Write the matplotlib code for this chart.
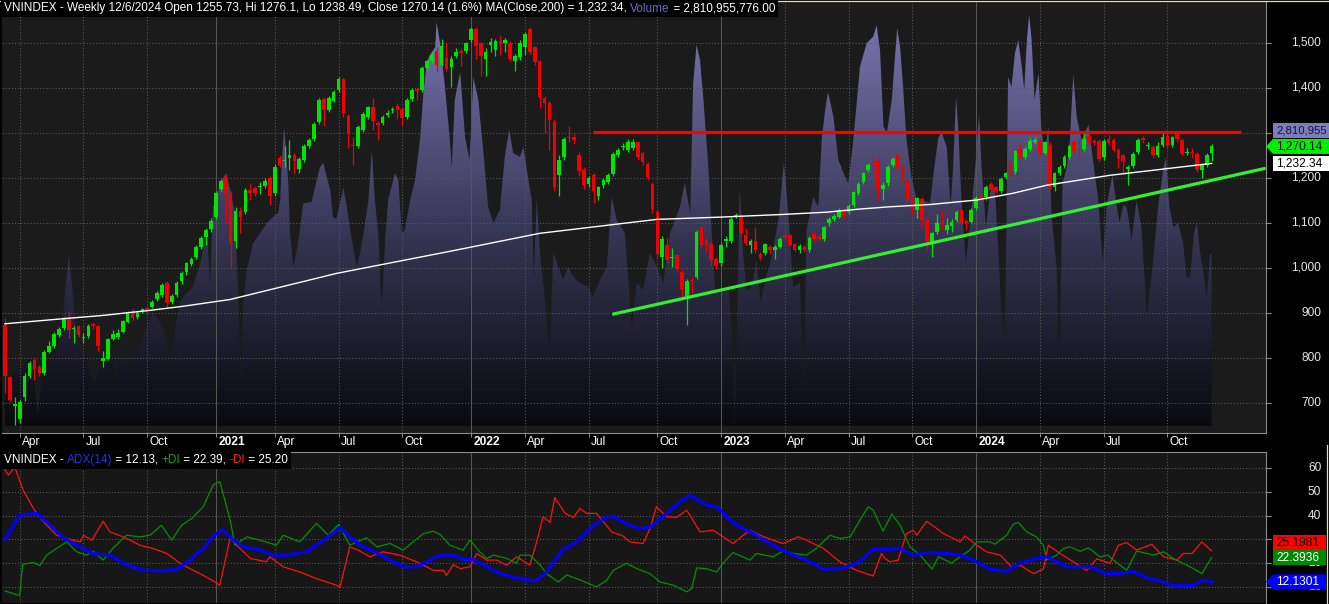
import numpy as np
import pandas as pd
import matplotlib
matplotlib.use("Agg")
import matplotlib.pyplot as plt
from matplotlib.colors import LinearSegmentedColormap
from matplotlib.patches import Polygon, Rectangle
from matplotlib.font_manager import FontProperties

W, H, DPI = 1329, 604, 100
FONT = "Liberation Sans"

# weekly bars stamped with the last trading day; Tet week of 2022-02-04 has no bar
dates = pd.date_range("2020-03-13", "2024-12-06", freq="W-FRI")
dates = dates[dates != pd.Timestamp("2022-02-04")]
dates = dates.where(dates != pd.Timestamp("2021-01-01"), pd.Timestamp("2020-12-31"))

opens = [873, 757, 694, 664, 714, 760, 795, 781, 766, 814, 827, 851, 866, 888, 865, 871, 845, 849, 876, 870,
         793, 797, 842, 846, 858, 881, 904, 890, 903, 910, 913, 930, 940, 966, 925, 940, 970, 990, 1009, 1024,
         1047, 1068, 1086, 1113, 1175, 1199, 1164, 1061, 1127, 1124, 1173, 1178, 1179, 1183, 1199, 1166, 1244, 1237, 1244, 1251,
         1220, 1240, 1270, 1286, 1325, 1376, 1351, 1372, 1396, 1419, 1338, 1272, 1270, 1307, 1336, 1357, 1323, 1323, 1340, 1350,
         1361, 1353, 1336, 1376, 1397, 1396, 1444, 1461, 1483, 1452, 1467, 1446, 1472, 1483, 1483, 1507, 1531, 1500, 1465, 1496,
         1485, 1505, 1499, 1500, 1459, 1468, 1490, 1530, 1490, 1459, 1378, 1367, 1325, 1207, 1246, 1292, 1292, 1251, 1218, 1186,
         1207, 1160, 1184, 1190, 1208, 1251, 1268, 1262, 1266, 1279, 1255, 1230, 1187, 1124, 1025, 1051, 1023, 1029, 990, 938,
         972, 979, 1090, 1062, 1053, 1019, 1010, 1060, 1061, 1113, 1116, 1073, 1050, 1060, 1031, 1033, 1047, 1041, 1047, 1073,
         1073, 1053, 1041, 1047, 1039, 1076, 1070, 1064, 1099, 1109, 1114, 1130, 1125, 1140, 1167, 1190, 1218, 1235, 1238, 1175,
         1188, 1229, 1251, 1227, 1192, 1156, 1129, 1153, 1107, 1055, 1079, 1104, 1084, 1093, 1107, 1129, 1105, 1103, 1133, 1160,
         1157, 1187, 1179, 1171, 1202, 1235, 1213, 1264, 1247, 1265, 1279, 1283, 1256, 1274, 1181, 1211, 1226, 1247, 1281, 1264,
         1264, 1294, 1281, 1283, 1246, 1287, 1285, 1263, 1250, 1219, 1226, 1257, 1289, 1272, 1269, 1250, 1273, 1294, 1274, 1298,
         1285, 1255, 1257, 1253, 1217, 1228, 1255.73]
highs = [888, 760, 714, 706, 767, 793, 800, 785, 818, 838, 858, 868, 890, 904, 870, 874, 855, 875, 879, 873,
         816, 845, 862, 865, 885, 905, 910, 905, 912, 916, 928, 948, 966, 970, 942, 972, 993, 1013, 1025, 1050,
         1070, 1088, 1110, 1172, 1197, 1207, 1170, 1135, 1135, 1178, 1188, 1183, 1190, 1200, 1205, 1230, 1250, 1270, 1284, 1256,
         1246, 1275, 1288, 1324, 1377, 1380, 1382, 1396, 1424, 1422, 1342, 1292, 1318, 1346, 1361, 1377, 1327, 1340, 1350, 1358,
         1366, 1358, 1377, 1400, 1402, 1448, 1463, 1480, 1490, 1509, 1502, 1470, 1488, 1488, 1503, 1535, 1536, 1503, 1488, 1511,
         1508, 1518, 1512, 1504, 1475, 1506, 1524, 1535, 1494, 1463, 1382, 1372, 1330, 1250, 1290, 1316, 1297, 1260, 1225, 1205,
         1212, 1183, 1200, 1212, 1258, 1266, 1278, 1286, 1287, 1283, 1260, 1235, 1192, 1128, 1070, 1066, 1044, 1032, 995, 975,
         981, 1085, 1096, 1066, 1058, 1025, 1056, 1070, 1114, 1123, 1120, 1088, 1065, 1092, 1035, 1056, 1050, 1052, 1068, 1083,
         1076, 1056, 1054, 1050, 1070, 1080, 1073, 1093, 1113, 1120, 1133, 1134, 1142, 1172, 1191, 1214, 1233, 1246, 1245, 1190,
         1229, 1247, 1255, 1231, 1196, 1160, 1158, 1157, 1112, 1080, 1121, 1129, 1112, 1108, 1129, 1133, 1108, 1133, 1159, 1167,
         1185, 1192, 1182, 1202, 1214, 1240, 1263, 1275, 1268, 1288, 1290, 1287, 1283, 1281, 1214, 1228, 1251, 1274, 1285, 1285,
         1302, 1300, 1286, 1287, 1287, 1296, 1289, 1267, 1254, 1228, 1258, 1289, 1293, 1280, 1273, 1280, 1300, 1299, 1294, 1303,
         1288, 1267, 1266, 1257, 1234, 1256, 1276.1]
lows = [723, 703, 651, 655, 705, 755, 751, 760, 762, 810, 822, 846, 862, 844, 834, 846, 834, 845, 865, 816,
        781, 795, 840, 843, 855, 877, 884, 886, 899, 900, 910, 926, 936, 912, 920, 936, 965, 985, 1004, 1020,
        1042, 1050, 1080, 1108, 1170, 1100, 1000, 1045, 1077, 1120, 1151, 1160, 1165, 1178, 1140, 1160, 1225, 1225, 1218, 1210,
        1212, 1236, 1266, 1282, 1320, 1315, 1347, 1368, 1392, 1336, 1266, 1229, 1266, 1303, 1330, 1307, 1284, 1318, 1335, 1344,
        1330, 1318, 1331, 1372, 1373, 1392, 1440, 1456, 1437, 1448, 1438, 1403, 1466, 1448, 1478, 1503, 1464, 1426, 1426, 1479,
        1472, 1474, 1481, 1460, 1437, 1463, 1474, 1476, 1450, 1355, 1300, 1262, 1170, 1159, 1240, 1280, 1275, 1205, 1175, 1180,
        1144, 1150, 1178, 1186, 1204, 1247, 1262, 1258, 1262, 1240, 1228, 1195, 1122, 1020, 999, 1010, 1003, 990, 936, 873,
        944, 975, 1045, 1035, 1005, 998, 1005, 1047, 1056, 1110, 1070, 1050, 1033, 1033, 1018, 1028, 1030, 1019, 1044, 1063,
        1048, 1038, 1034, 1035, 1036, 1060, 1060, 1061, 1094, 1105, 1110, 1112, 1121, 1136, 1163, 1186, 1214, 1210, 1151, 1151,
        1183, 1225, 1220, 1186, 1140, 1118, 1112, 1092, 1040, 1025, 1075, 1084, 1075, 1080, 1103, 1096, 1085, 1099, 1129, 1145,
        1150, 1168, 1166, 1167, 1198, 1205, 1208, 1243, 1243, 1261, 1275, 1250, 1250, 1175, 1172, 1207, 1222, 1243, 1255, 1252,
        1260, 1274, 1274, 1237, 1240, 1273, 1258, 1222, 1211, 1185, 1222, 1253, 1278, 1265, 1245, 1246, 1268, 1265, 1268, 1280,
        1248, 1252, 1244, 1213, 1200, 1224, 1238.49]
closes = [760, 707, 697, 703, 759, 788, 775, 767, 814, 827, 853, 864, 886, 862, 867, 850, 847, 872, 870, 827,
          799, 842, 853, 856, 882, 901, 888, 901, 908, 905, 924, 944, 962, 923, 938, 967, 988, 1010, 1021, 1046,
          1066, 1084, 1105, 1167, 1193, 1166, 1055, 1127, 1114, 1173, 1167, 1167, 1183, 1194, 1161, 1225, 1229, 1239, 1250, 1238,
          1242, 1270, 1284, 1320, 1373, 1351, 1377, 1392, 1420, 1345, 1299, 1270, 1314, 1342, 1357, 1327, 1318, 1336, 1345, 1354,
          1351, 1334, 1373, 1396, 1394, 1444, 1459, 1474, 1452, 1494, 1443, 1464, 1481, 1478, 1499, 1530, 1494, 1472, 1481, 1503,
          1504, 1499, 1507, 1465, 1470, 1499, 1519, 1481, 1457, 1379, 1367, 1328, 1181, 1240, 1286, 1288, 1284, 1216, 1184, 1199,
          1170, 1179, 1196, 1207, 1253, 1262, 1270, 1281, 1279, 1247, 1235, 1203, 1130, 1030, 1065, 1018, 1025, 997, 953, 970,
          970, 1079, 1050, 1051, 1018, 1004, 1051, 1064, 1109, 1118, 1077, 1055, 1060, 1039, 1023, 1053, 1041, 1047, 1064, 1067,
          1051, 1041, 1049, 1039, 1067, 1064, 1064, 1090, 1109, 1116, 1129, 1118, 1138, 1168, 1187, 1210, 1229, 1233, 1175, 1184,
          1225, 1242, 1225, 1192, 1151, 1129, 1155, 1107, 1059, 1077, 1101, 1102, 1096, 1103, 1125, 1101, 1101, 1129, 1155, 1153,
          1181, 1173, 1171, 1198, 1210, 1211, 1259, 1247, 1264, 1283, 1285, 1256, 1279, 1181, 1210, 1224, 1247, 1270, 1259, 1262,
          1287, 1278, 1279, 1243, 1283, 1278, 1263, 1242, 1237, 1224, 1254, 1285, 1284, 1274, 1250, 1272, 1291, 1270, 1290, 1287,
          1253, 1257, 1256, 1217, 1230, 1252, 1270.14]

# volume envelope (billions of shares) sampled along the bar axis
vol_pos = [0.0, 3.7, 5.1, 5.7, 6.7, 7.5, 9.2, 10.2, 11.2, 11.8, 12.6, 13.0, 13.7, 14.3, 15.3, 17.3, 18.3, 19.4, 20.8, 22.0,
           22.8, 23.4, 24.9, 26.1, 27.5, 29.0, 30.0, 31.0, 32.2, 33.2, 34.0, 34.7, 35.7, 37.1, 38.3, 39.8, 41.2, 41.8, 42.4, 43.4,
           44.4, 45.1, 45.9, 46.9, 47.6, 48.1, 48.6, 49.3, 49.9, 50.6, 52.0, 53.4, 54.7, 55.7, 56.1, 56.4, 56.9, 57.4, 57.8, 58.1,
           58.8, 59.5, 60.1, 60.8, 62.5, 64.2, 64.9, 65.6, 66.3, 66.9, 67.6, 68.3, 69.0, 69.7, 70.7, 71.7, 72.4, 73.0, 74.1, 74.8,
           75.4, 76.1, 76.8, 77.5, 78.1, 79.5, 80.2, 80.9, 81.5, 82.6, 83.6, 84.6, 85.3, 86.0, 86.6, 87.7, 88.0, 88.7,
           89.7, 90.7, 91.1, 91.7, 92.8, 93.8, 94.7, 95.5, 96.5, 97.5, 98.5, 99.6, 100.9, 101.9, 102.8, 103.6, 105.0, 105.7, 106.7, 107.4,
           107.8, 108.4, 109.1, 110.1, 111.0, 111.8, 112.8, 113.8, 114.8, 115.9, 117.2, 118.9, 119.9, 121.3, 122.7, 123.7, 124.7, 126.4, 127.8, 128.8,
           130.1, 131.5, 132.9, 134.2, 135.6, 137.6, 138.6, 139.7, 140.3, 141.0, 141.7, 142.4, 143.4, 144.1, 144.8, 146.1, 147.5, 148.2, 148.8, 149.5,
           149.8, 150.4, 151.2, 152.2, 153.2, 154.1, 154.9, 156.3, 157.7, 158.8, 159.7, 160.7, 162.1, 162.9, 163.4, 164.8, 165.8, 166.5, 167.2, 167.8,
           168.9, 169.9, 171.3, 171.9, 172.9, 174.3, 175.7, 177.0, 177.7, 178.4, 179.1, 179.8, 180.8, 181.4, 181.9, 182.5, 183.1, 183.8, 184.8, 185.9,
           187.2, 188.6, 189.3, 190.3, 191.0, 192.0, 192.8, 193.3, 193.9, 194.4, 195.0, 195.9, 196.7, 197.8, 198.6, 199.1, 200.0, 200.8, 201.8, 202.5,
           203.2, 203.9, 204.5, 205.2, 205.9, 206.6, 207.3, 207.8, 208.3, 208.8, 209.3, 209.9, 210.7, 211.3, 212.0, 212.7, 213.4, 214.4, 215.0, 215.6,
           216.5, 217.1, 217.8, 218.5, 219.5, 220.9, 221.9, 222.9, 223.8, 224.6, 225.3, 225.8, 226.5, 227.2, 228.0, 228.7, 229.7, 230.7, 231.7, 232.8,
           233.4, 234.1, 235.1, 236.1, 236.7, 237.4, 238.2, 239.2, 240.2, 240.9, 241.6, 242.4, 243.0, 243.6, 244.3, 245.0, 245.7, 246.0]
vol_val = [0.75, 0.96, 1.13, 0.92, 0.15, 0.80, 1.03, 1.13, 1.45, 1.78, 2.50, 2.79, 2.27, 1.73, 1.36, 0.87, 0.70, 0.96, 1.13, 1.19,
           0.70, 1.29, 0.96, 1.08, 1.32, 1.62, 1.85, 1.76, 1.60, 1.29, 1.05, 1.62, 2.03, 2.17, 2.27, 2.66, 3.20, 2.30, 3.58, 3.82,
           4.05, 4.13, 3.86, 3.48, 2.06, 0.70, 2.06, 2.55, 2.76, 2.99, 3.15, 3.32, 3.42, 3.48, 3.69, 4.23, 4.89, 4.40, 3.91, 3.15,
           2.60, 2.88, 3.20, 3.64, 3.66, 4.23, 4.30, 4.07, 3.86, 3.40, 3.40, 3.64, 3.89, 3.58, 3.04, 2.60, 2.83, 3.09, 3.69, 4.51,
           3.69, 3.15, 1.94, 3.04, 3.69, 4.13, 4.02, 3.15, 3.20, 3.69, 4.02, 4.67, 5.44, 5.95, 6.06, 6.19, 6.60, 6.26,
           5.54, 4.67, 4.23, 5.33, 5.78, 4.72, 4.35, 5.70, 5.33, 4.51, 3.58, 3.32, 3.53, 4.40, 4.84, 4.46, 4.40, 4.56, 4.02, 3.69,
           2.43, 3.69, 2.83, 2.06, 1.19, 2.83, 2.60, 2.39, 2.60, 2.43, 2.34, 2.27, 2.11, 2.39, 2.60, 3.74, 3.37, 3.15, 1.57, 2.34,
           2.22, 2.83, 2.60, 2.34, 3.15, 3.58, 3.97, 3.48, 5.60, 6.23, 5.98, 5.33, 4.23, 3.15, 2.22, 2.17, 2.22, 1.52, 0.05, 2.60,
           3.89, 2.88, 2.22, 2.27, 2.71, 2.01, 2.34, 2.76, 3.37, 4.30, 3.48, 2.27, 2.34, 0.59, 3.20, 3.74, 3.58, 4.67, 5.16, 5.46,
           5.05, 4.35, 4.07, 3.97, 4.62, 5.87, 6.26, 6.36, 6.55, 6.14, 4.89, 4.79, 5.33, 5.98, 6.50, 6.19, 5.54, 4.67, 4.07, 3.69,
           3.69, 3.64, 4.13, 4.72, 4.79, 4.56, 3.58, 4.23, 5.38, 4.79, 3.69, 2.66, 3.25, 4.23, 5.08, 4.23, 3.25, 3.81, 3.91, 2.92,
           1.78, 1.45, 5.70, 5.54, 6.09, 6.31, 5.87, 5.49, 6.26, 6.72, 6.31, 5.33, 5.77, 4.84, 4.40, 4.89, 3.42, 2.60, 0.80, 3.97,
           4.23, 4.67, 5.74, 5.05, 4.67, 4.92, 4.30, 3.69, 2.66, 3.58, 3.91, 4.10, 3.69, 3.32, 3.61, 3.58, 3.04, 3.69, 3.25, 1.78,
           2.22, 2.71, 3.58, 4.18, 4.40, 3.58, 3.25, 3.32, 2.99, 2.43, 2.43, 3.15, 3.32, 2.88, 2.50, 2.11, 2.81, 2.81]
last_volume = "2,810,955,776.00"

# MA(Close,200) read along the bar axis
ma_pos = [0, 12.6, 19.4, 28.9, 35.7, 45.9, 67.6, 90.7, 109, 132.9, 145.8, 158.6, 167.5, 174.3, 180.4, 188.6,
          198.1, 205.5, 212.4, 225.3, 246]
ma_val = [876, 888, 894, 905, 914, 930, 988, 1037, 1077, 1108, 1113, 1119, 1124, 1131, 1136, 1141,
          1151, 1166, 1184, 1206, 1232.34]

# drawn study lines: resistance level and rising trendline
level_pos, level_val = [119.9, 252.0], [1303, 1303]
trend_pos, trend_val = [123.8, 257.0], [897, 1221.6]

# ADX(14), +DI, -DI
adx_pos = [0, 3, 6.5, 9.2, 11.9, 14.6, 18, 21.4, 24.8, 28.2, 31.6, 35, 37.7, 40.4, 42.8, 44.5, 46.6, 48.6, 52, 54.7,
           57.4, 61.5, 64.9, 68.3, 70.3, 72.4, 75.1, 78.5, 81.2, 83.9, 86.6, 88.7, 91.4, 93.4, 95.5, 98.2, 100.9, 104.3, 107, 108.1,
           110.4, 113.8, 116.6, 120, 122.7, 124, 127.4, 129.5, 131.5, 134.9, 137.6, 139.7, 143, 145.1, 147.8, 149.8, 152.6, 155.9, 159.4, 163.4,
           166.9, 170.2, 172.9, 175, 177, 178.4, 181.1, 182.1, 185.2, 187.9, 192, 194.7, 197.4, 200.8, 204.2, 206.9, 210.3, 212.4, 216.5, 221.2,
           224.6, 227.3, 230.1, 232.8, 235.5, 238.2, 242.3, 244.3, 246]
adx_val = [30, 40.3, 41, 36, 30.7, 27.6, 24, 23.4, 19.2, 17, 16.8, 17.3, 21.3, 26.2, 32.1, 34, 29.7, 26.9, 25.5, 23.4,
           23.4, 24.8, 29.7, 34.9, 31.1, 27.6, 25.1, 21.3, 18.5, 18.5, 21.3, 23.4, 23.4, 21.5, 21.5, 18.5, 15.6, 13.8, 12.8, 12.4,
           16.3, 25.9, 29, 36, 39.6, 39.6, 36, 34.6, 35.2, 41, 45.9, 48.7, 44.5, 43.8, 38.2, 35.4, 32.5, 28.3, 24.5, 21.3,
           17.5, 17.7, 19.2, 22, 25.9, 25.9, 25.9, 26.5, 23.4, 24.5, 24.1, 23.4, 21.3, 17.5, 16.6, 20, 22, 22.7, 18.5, 18.5,
           15.6, 15.6, 16.6, 13.8, 12.4, 10.4, 10.7, 12.8, 12.13]
pdi_pos = [0, 2.7, 3.0, 3.6, 5.8, 7.1, 8.5, 10.5, 12.6, 14.6, 16.6, 18, 20, 22.1, 24.8, 27.5, 29.6, 31.9, 34, 36,
           38.1, 40.4, 42.5, 43.8, 45.9, 46.9, 49.3, 52, 55.4, 56.7, 60.1, 63.5, 65.9, 68, 70.3, 73.7, 75.8, 78.5, 81.2, 83.2,
           85.3, 87.3, 88.7, 90.7, 93.4, 94.8, 96.8, 98.2, 99.6, 102.3, 104.3, 105, 107, 109.1, 110.4, 112.8, 114.5, 117.2, 120.6, 122.7,
           124, 126.7, 128.8, 131.5, 133.5, 136.3, 139, 140, 141, 143, 145.1, 146.4, 148.4, 151.9, 153.2, 156.6, 158.6, 160.7, 163.4, 165.4,
           168.2, 170.2, 172.3, 174.3, 176, 177, 179, 180.8, 182.5, 184.5, 186.6, 189, 190.3, 193, 194.7, 196.7, 198.1, 200.8, 201.8, 204.2,
           205.6, 206.6, 208.3, 210.3, 211.7, 212.4, 214.4, 215.8, 217.1, 219.2, 220.9, 223.2, 224.9, 226, 228.7, 230.7, 232.8, 234.1, 236.2, 238.2,
           242.3, 244, 246]
pdi_val = [8.3, 6.5, 6.5, 19.5, 20.3, 19, 23.4, 26.2, 29, 24.8, 23.4, 25, 21.3, 26.5, 31.8, 31.1, 31.8, 36, 29.7, 36,
           38.9, 43.8, 53.2, 54.4, 38.2, 27.6, 31.1, 29.7, 27.6, 31.8, 29, 36.8, 31.8, 36.3, 27.6, 30.7, 26.9, 28.3, 25.5, 29,
           32.5, 33.5, 32.1, 27.6, 25.5, 29.7, 24.8, 22, 23.4, 22, 20, 23.4, 23.4, 19.2, 15.6, 12.1, 15, 13, 10, 12.8,
           17, 20, 17.7, 15.6, 12.1, 10.7, 7.9, 9.3, 18, 17.7, 16.3, 20, 24.5, 21.3, 24.1, 22.7, 25.1, 24.1, 23.4, 26.2,
           31.8, 30.4, 31.1, 38.2, 43.8, 42.4, 33.5, 40.7, 36, 26.9, 23.4, 17.5, 22.7, 20, 22.7, 25.5, 29, 29, 28, 31.8,
           36.5, 37.2, 33.2, 31.1, 27.6, 21.3, 23.4, 26.2, 26.9, 25, 26.5, 22.7, 23.4, 21.3, 17, 25.1, 24.1, 23.4, 24.8, 22,
           17.7, 15.6, 22.39]
mdi_pos = [0, 0.7, 2, 3.7, 5.8, 7.8, 10.5, 12.6, 15.3, 16, 17.7, 20, 21.4, 24.1, 27.5, 30.2, 33, 35.7, 37.7, 40.4,
           42.8, 43.8, 45.9, 47.2, 50, 53.3, 54, 56.7, 60.1, 63.5, 67.6, 68.3, 70.3, 72, 74.4, 77.1, 80.5, 83.9, 87.3, 89.4,
           90, 91.4, 92.8, 94.8, 96.2, 98.2, 100.2, 102.3, 104.3, 107, 108.4, 109.7, 111.1, 112.1, 114.2, 115.9, 117.2, 118.6, 120.6, 123.7,
           126, 127.4, 130.1, 131.5, 132.8, 134.9, 136.9, 139, 141.7, 144.4, 146.4, 148.4, 150.5, 151.9, 153.9, 156.6, 158.6, 161.7, 163.4, 166.9,
           170.2, 173.6, 177, 178.7, 179.4, 180.4, 182.1, 183.8, 185.2, 185.9, 187.9, 190, 191.3, 193.4, 194.7, 195.7, 198.1, 200.1, 202.9, 205.2,
           206.9, 209.7, 211.7, 212.7, 215.1, 217.8, 220.5, 222.6, 225.3, 227, 228.7, 230.7, 233.8, 236.2, 238.9, 240.2, 242, 244, 246]
mdi_val = [59.5, 57.2, 60.5, 50.8, 43.1, 37.5, 31.8, 30.4, 29, 31.8, 29.7, 37.7, 33.2, 31.1, 27.6, 26.2, 24.1, 20, 17.7, 14.9,
           12.1, 10.7, 30.7, 27.6, 22, 20.6, 22.7, 18.5, 16.3, 13.5, 10.7, 10, 26.9, 25.5, 22.7, 24.8, 23.4, 20.6, 17, 17,
           14.9, 19.4, 17.7, 18.5, 24.1, 21.3, 21.3, 19.2, 22.7, 19.2, 29, 39.6, 37.2, 47.7, 41, 39.3, 43.1, 41, 41, 33.2,
           31.5, 29, 28.3, 34.6, 43.8, 39.6, 39.3, 42.4, 33.2, 33.9, 31.1, 28.3, 31.8, 33.9, 31.8, 29.7, 28.3, 31.1, 29.7, 26.2,
           20.6, 17, 14.6, 24.1, 22, 20.6, 21.3, 32.5, 33.9, 31.8, 37.7, 34.6, 32.5, 30.4, 29, 31.5, 27.6, 24.8, 23.4, 18.5,
           19.2, 15.6, 17.5, 27.6, 24.1, 20.6, 17, 21.8, 20, 27.6, 28.7, 25.5, 28, 22.7, 21.3, 24.1, 24.1, 29, 25.2]

# right-hand scale labels; 1,300 and 30 sit fully under value tags in the original
price_ticks = [700, 800, 900, 1000, 1100, 1200, 1300, 1400, 1500]
price_labels = [700, 800, 900, 1000, 1100, 1200, 1400, 1500]
adx_ticks = [10, 20, 30, 40, 50, 60]
adx_labels = [10, 20, 40, 50, 60]

assert len(dates) == len(closes) == len(opens) == len(highs) == len(lows)

# ---------------------------------------------------------------- layout
fig = plt.figure(figsize=(W / DPI, H / DPI), dpi=DPI, facecolor="black")


def rect(x0, y0, x1, y1):
    return [x0 / W, 1 - y1 / H, (x1 - x0) / W, (y1 - y0) / H]


XL = (-0.61, 257.03)
PANEL_BG = "#1b1b1b"
GRID = "#5c5c5c"
AXLINE = "#8c8c8c"

ax_bg = fig.add_axes(rect(2, 1, 1265.7, 433))
ax = fig.add_axes(rect(2, 1, 1265.7, 433))
ax_adx = fig.add_axes(rect(2, 452, 1265.7, 603))

for a in (ax_bg, ax, ax_adx):
    a.set_xlim(*XL)
    a.set_xticks([])
    for s in a.spines.values():
        s.set_visible(False)
ax_bg.set_facecolor(PANEL_BG)
ax_bg.set_yticks([])
ax.set_facecolor("none")
ax_adx.set_facecolor("#171717")
ax.set_ylim(633.3, 1593.3)
ax_adx.set_ylim(3.2, 66.9)

# volume area with vertical gradient
poly = ax_bg.fill_between(vol_pos, 0, vol_val, color="none", lw=0)
cmap = LinearSegmentedColormap.from_list(
    "vol", [(0.0, (0.04, 0.04, 0.06)), (0.45, (0.21, 0.21, 0.33)), (1.0, (0.50, 0.48, 0.72))])
grad = np.linspace(0, 1, 256).reshape(-1, 1)
img = ax_bg.imshow(grad, extent=[XL[0], XL[1], 0, 6.945], origin="lower", aspect="auto",
                   cmap=cmap, interpolation="bilinear", zorder=1)
img.set_clip_path(poly.get_paths()[0], transform=ax_bg.transData)
ax_bg.set_xlim(*XL)
ax_bg.set_ylim(-0.114, 6.945)

# quarter / year ticks from the bar dates
tick_idx, tick_lbl, tick_year = [], [], []
for i in range(1, len(dates)):
    d, p = dates[i], dates[i - 1]
    if d.month != p.month and d.month in (1, 4, 7, 10):
        tick_idx.append(i)
        tick_lbl.append(str(d.year) if d.month == 1 else d.strftime("%b"))
        tick_year.append(d.month == 1)

for a in (ax, ax_adx):
    for i, yr in zip(tick_idx, tick_year):
        if yr:
            a.axvline(i, color="#555555", lw=0.75, zorder=1)
        else:
            a.axvline(i, color=GRID, lw=0.75, ls=(0, (1, 2)), zorder=1)
for v in price_ticks:
    ax.axhline(v, color=GRID, lw=0.75, ls=(0, (1, 2)), zorder=1)
for v in adx_ticks:
    ax_adx.axhline(v, color=GRID, lw=0.75, ls=(0, (1, 2)), zorder=1)

# x labels in the strip under the price pane
xt = ax.get_xaxis_transform()
for i, lbl, yr in zip(tick_idx, tick_lbl, tick_year):
    ax.text(i + 0.5, -0.0215, lbl, transform=xt, color="white", fontsize=8.6, family=FONT,
            fontweight="bold" if yr else "normal", ha="left", va="center", clip_on=False)
ax.vlines(tick_idx, -0.009, 0, transform=xt, color=AXLINE, lw=0.75, clip_on=False)

# axis lines
ax.spines["bottom"].set_visible(True)
ax.spines["bottom"].set_color(AXLINE)
ax.spines["right"].set_visible(True)
ax.spines["right"].set_color(AXLINE)
ax_adx.spines["top"].set_visible(True)
ax_adx.spines["top"].set_color(AXLINE)
ax_adx.spines["right"].set_visible(True)
ax_adx.spines["right"].set_color(AXLINE)

# right-hand value scales
for a, ticks, shown, fmt in ((ax, price_ticks, price_labels, "{:,}"), (ax_adx, adx_ticks, adx_labels, "{}")):
    a.set_yticks(ticks)
    a.yaxis.tick_right()
    a.tick_params(axis="y", length=3.5, color=AXLINE, labelright=False)
    yt = a.get_yaxis_transform()
    for v in shown:
        a.text(1 + 55.5 / 1263.7, v, fmt.format(v), transform=yt, color="#e6e6e6", fontsize=8.6,
               family=FONT, ha="right", va="center", clip_on=False)

# candles
o, h, l, c = map(np.asarray, (opens, highs, lows, closes))
idx = np.arange(len(c))
up = c >= o
cols = np.where(up, "#00e400", "#f00000")
ax.vlines(idx, l, h, colors=cols, lw=0.9, zorder=3)
body_lo = np.minimum(o, c)
body_h = np.maximum(np.abs(c - o), 2.2)
ax.bar(idx, body_h, bottom=body_lo, width=0.74, color=cols, lw=0, zorder=3)

# MA and drawn lines
ax.plot(ma_pos, ma_val, color="white", lw=1.0, zorder=4)
ax.plot(level_pos, level_val, color="#ff0000", lw=2.3, solid_capstyle="butt", zorder=5)
ax.plot(trend_pos, trend_val, color="#33ee33", lw=2.3, solid_capstyle="butt", zorder=5)

# ADX pane
ax_adx.plot(mdi_pos, mdi_val, color="#ff1010", lw=0.9, zorder=3)
ax_adx.plot(pdi_pos, pdi_val, color="#009000", lw=0.9, zorder=3)
ax_adx.plot(adx_pos, adx_val, color="#0000ff", lw=2.3, zorder=4)

# ---------------------------------------------------------------- text helpers
renderer = fig.canvas.get_renderer()
TITLE_SIZE = 8.5


def text_w(s, size, weight="normal"):
    fp = FontProperties(family=FONT, size=size, weight=weight)
    w1 = renderer.get_text_width_height_descent("|" + s + "|", fp, ismath=False)[0]
    w0 = renderer.get_text_width_height_descent("||", fp, ismath=False)[0]
    return w1 - w0


def title_line(x, y, parts, size):
    total = sum(text_w(s, size) for s, _ in parts)
    fig.patches.append(Rectangle(((x - 3) / W, 1 - (y + 8.5) / H), (total + 6) / W, 17 / H,
                                 transform=fig.transFigure, facecolor="black", edgecolor="none", zorder=8))
    for s, col in parts:
        fig.text(x / W, 1 - y / H, s, color=col, fontsize=size, family=FONT, ha="left", va="center", zorder=9)
        x += text_w(s, size)


title_line(4, 8.5, [
    ("VNINDEX - Weekly 12/6/2024 Open 1255.73, Hi 1276.1, Lo 1238.49, Close 1270.14 (1.6%) MA(Close,200) = 1,232.34, ", "white"),
    ("Volume", "#6a6ad2"),
    (" = " + last_volume, "white")], TITLE_SIZE)
title_line(4, 460, [
    ("VNINDEX - ", "white"), ("ADX(14)", "#2a2aff"), (" = 12.13, ", "white"),
    ("+DI", "#00b000"), (" = 22.39, ", "white"), ("-DI", "#ff2020"), (" = 25.20", "white")], TITLE_SIZE)


def value_tag(a, value, label, face, fg, arrow=False, shift_px=0.0, size=8.6, right=1329):
    yc = a.transData.transform((0, value))[1] + shift_px
    hh = 7.5
    if arrow:
        pts = [(1266, yc), (1273, yc + hh), (right, yc + hh), (right, yc - hh), (1273, yc - hh)]
    else:
        pts = [(1273, yc + hh), (right, yc + hh), (right, yc - hh), (1273, yc - hh)]
    fig.patches.append(Polygon([(px / W, py / H) for px, py in pts], closed=True, transform=fig.transFigure,
                               facecolor=face, edgecolor="none", zorder=10))
    fig.text(1276 / W, yc / H, label, color=fg, fontsize=size, family=FONT, ha="left", va="center", zorder=11)


value_tag(ax, closes[-1], "1,270.14", "#00ee00", "black", arrow=True)
value_tag(ax, closes[-1], last_volume[:9], "#7d7dbd", "#101040", shift_px=15.5, size=8.2)
value_tag(ax, ma_val[-1], "1,232.34", "white", "black")
value_tag(ax_adx, adx_val[-1], "12.1301", "#0000ff", "white", arrow=True, right=1326)
value_tag(ax_adx, pdi_val[-1], "22.3936", "#008800", "white", right=1326)
value_tag(ax_adx, pdi_val[-1], "25.1981", "#ff0000", "black", shift_px=15.0, right=1326)

# window frame highlight
frame = "#f0dca0"
fig.lines.append(plt.Line2D([0, 1], [1 - 0.5 / H] * 2, transform=fig.transFigure, color=frame, lw=0.9))
fig.lines.append(plt.Line2D([1326.5 / W] * 2, [0, 1 - 445 / H], transform=fig.transFigure, color=frame, lw=0.9))

fig.savefig("out.png", dpi=DPI, facecolor=fig.get_facecolor())
